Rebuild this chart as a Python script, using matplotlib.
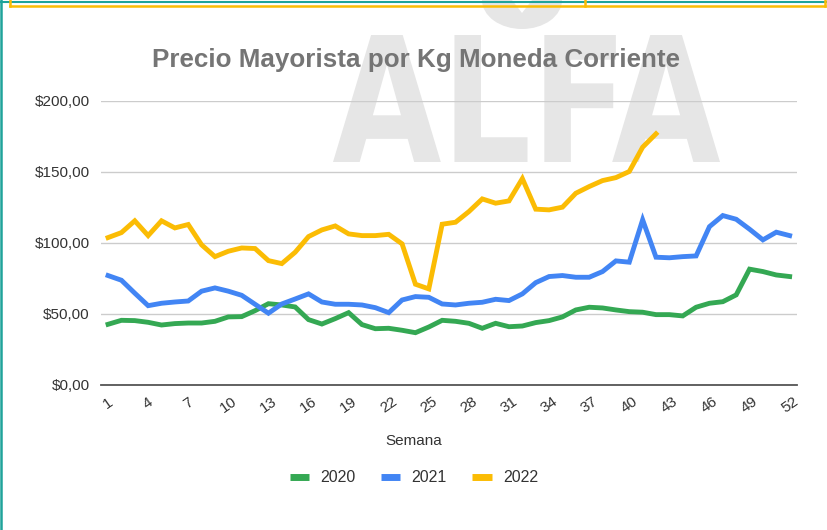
import matplotlib
matplotlib.use("Agg")
import matplotlib.pyplot as plt
from matplotlib.lines import Line2D
from matplotlib.patches import PathPatch, Ellipse, Polygon
from matplotlib.textpath import TextPath
from matplotlib.font_manager import FontProperties
from matplotlib.transforms import Affine2D

plt.rcParams["font.family"] = ["Liberation Sans", "DejaVu Sans"]

W, H = 827, 530
DPI = 100

weeks = list(range(1, 53))

precio_2020 = [42.7, 45.5, 45.3, 44.1, 42.2, 43.2, 43.6, 43.6, 44.8, 47.9,
               48.1, 52.3, 57.2, 56.3, 54.9, 46.0, 42.9, 46.7, 50.9, 42.5,
               39.6, 39.9, 38.5, 36.8, 40.8, 45.5, 44.8, 43.4, 39.9, 43.4,
               41.0, 41.5, 43.9, 45.3, 47.9, 52.8, 54.7, 54.2, 52.8, 51.6,
               51.2, 49.5, 49.5, 48.6, 54.7, 57.5, 58.6, 63.4, 81.5, 79.8,
               77.4, 76.3]
precio_2021 = [77.0, 73.7, 64.6, 55.8, 57.5, 58.4, 59.1, 66.0, 68.3, 66.0,
               63.1, 56.8, 50.5, 57.0, 60.5, 64.1, 58.4, 56.8, 56.8, 56.3,
               54.4, 50.9, 59.8, 62.2, 61.7, 57.0, 56.3, 57.5, 58.2, 60.3,
               59.4, 64.1, 72.0, 76.3, 77.0, 75.8, 75.8, 79.8, 87.3, 86.4,
               116.2, 89.9, 89.5, 90.3, 90.8, 111.4, 119.2, 116.6, 109.6, 102.1,
               107.5, 105.1]
precio_2022 = [103.7, 107.2, 115.5, 105.1, 115.5, 110.5, 112.9, 98.6, 90.3, 94.1,
               96.4, 96.0, 87.5, 85.4, 93.4, 104.4, 109.1, 111.9, 106.3, 105.1,
               105.1, 106.0, 99.3, 70.9, 67.6, 113.1, 114.5, 122.0, 130.9, 127.9,
               129.5, 145.2, 123.7, 123.2, 125.1, 134.9, 139.6, 143.8, 145.9, 150.2,
               167.3, 176.7]

series = [("2020", precio_2020, "#34a853"),
          ("2021", precio_2021, "#4285f4"),
          ("2022", precio_2022, "#fbbc04")]

y_ticks = [0, 50, 100, 150, 200]
x_ticks = list(range(1, 53, 3))

fig = plt.figure(figsize=(W / DPI, H / DPI), dpi=DPI)
fig.patch.set_facecolor("white")

# pixel coords (origin top-left) -> figure fraction
px = Affine2D().scale(1 / W, -1 / H).translate(0, 1) + fig.transFigure

# watermark "ALFA" behind the chart
WM = "#e6e6e6"
tp = TextPath((0, 0), "ALFA", size=100,
              prop=FontProperties(family="DejaVu Sans", weight="bold"))
bb = tp.get_extents()
x0, x1, top, bot = 333, 720, 35, 162
tr = (Affine2D().translate(-bb.x0, -bb.y0)
      .scale((x1 - x0) / bb.width, -(bot - top) / bb.height)
      .translate(x0, bot))
fig.add_artist(PathPatch(tr.transform_path(tp), facecolor=WM, edgecolor="none",
                         transform=px, zorder=-5))
fig.add_artist(Ellipse((522, 0), 80, 58, facecolor=WM, edgecolor="none",
                       transform=px, zorder=-5))
fig.add_artist(Polygon([(512, 0), (532, 0), (522, 13)], closed=True,
                       facecolor="white", edgecolor="none", transform=px, zorder=-4))

ax = fig.add_axes([100.7 / W, 1 - 385 / H, (797 - 100.7) / W, (385 - 100.7) / H])
ax.set_facecolor("none")

for name, vals, color in series:
    ax.plot(weeks[:len(vals)], vals, color=color, linewidth=3.5,
            solid_joinstyle="miter", label=name, zorder=3)

ax.set_xlim(0.45, 52.55)
ax.set_ylim(0, 200)
ax.set_yticks(y_ticks)
ax.set_yticklabels(["$" + f"{v:.2f}".replace(".", ",") for v in y_ticks])
ax.set_xticks(x_ticks)
ax.set_xticklabels([str(t) for t in x_ticks], rotation=35, ha="center")
ax.tick_params(axis="both", length=0, labelsize=11, colors="#333333")
ax.tick_params(axis="y", pad=8)
ax.tick_params(axis="x", pad=7)
ax.grid(axis="y", color="#cccccc", linewidth=1)
ax.set_axisbelow(True)
for s in ["top", "right", "left"]:
    ax.spines[s].set_visible(False)
ax.spines["bottom"].set_color("#555555")
ax.spines["bottom"].set_linewidth(1.3)
ax.spines["bottom"].set_zorder(4)

fig.text(415.5 / W, 1 - 60 / H, "Precio Mayorista por Kg Moneda Corriente",
         ha="center", va="center", fontsize=18.7, fontweight="bold", color="#757575")
fig.text(414 / W, 1 - 441 / H, "Semana", ha="center", va="center",
         fontsize=11, color="#333333")

handles = [Line2D([0], [0], color=c, linewidth=5, solid_capstyle="butt")
           for _, _, c in series]
fig.legend(handles, [n for n, _, _ in series], loc="center",
           bbox_to_anchor=(414 / W, 1 - 478 / H), ncol=3, frameon=False,
           fontsize=11.5, handlelength=1.2, columnspacing=1.6, handletextpad=0.7,
           labelcolor="#333333")

# spreadsheet selection borders
teal = "#1fa39a"
yellow = "#fbbc04"
def fig_line(xs, ys, color, lw):
    fig.add_artist(Line2D(xs, ys, color=color, linewidth=lw, transform=px))
fig_line([0, W], [1.5, 1.5], teal, 1.5)
fig_line([1, 1], [0, H], teal, 1.8)
fig_line([10, 825], [6, 6], yellow, 1.8)
fig_line([10, 10], [0, 6], yellow, 1.8)
fig_line([825, 825], [0, 6], yellow, 1.8)
fig_line([585, 585], [0, 6], yellow, 1.8)

fig.savefig("out.png", dpi=DPI, facecolor="white")
